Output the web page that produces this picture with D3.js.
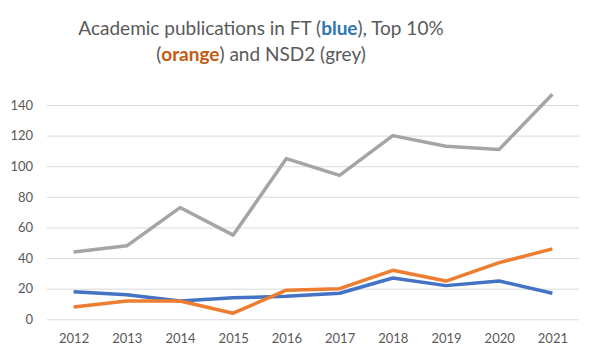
<!DOCTYPE html>
<html><head><meta charset="utf-8">
<script src="https://cdn.jsdelivr.net/npm/d3@7"></script>
<style>body{margin:0;background:#fff}svg{display:block}</style>
</head><body>
<svg id="c" width="597" height="355"></svg>
<script>
const years = ["2012","2013","2014","2015","2016","2017","2018","2019","2020","2021"];
const ft = [18,16,12,14,15,17,27,22,25,17];
const top10 = [8,12,12,4,19,20,32,25,37,46];
const nsd2 = [44,48,73,55,105,94,120,113,111,147];
const yTicks = [0,20,40,60,80,100,120,140];

const svg = d3.select("#c");
const font = "Lato, 'Open Sans', sans-serif";
const txt = "#595959";
const x = d3.scalePoint().domain(years).range([47,579]).padding(0.5);
const y = d3.scaleLinear().domain([0,140]).range([319.3,105]);

const yAxis = d3.axisLeft(y).tickValues(yTicks).tickSize(-(579-47)).tickPadding(14);
const gy = svg.append("g").attr("transform","translate(47,0)").call(yAxis);
gy.select(".domain").remove();
gy.selectAll(".tick line").attr("stroke","#D9D9D9").attr("stroke-width",1);
gy.selectAll(".tick text").attr("fill",txt).attr("font-family",font).attr("font-size",13);

const xAxis = d3.axisBottom(x).tickSize(0).tickPadding(14);
const gx = svg.append("g").attr("transform","translate(0,319.3)").call(xAxis);
gx.select(".domain").remove();
gx.selectAll(".tick text").attr("fill",txt).attr("font-family",font).attr("font-size",13);

const line = d3.line().x((d,i)=>x(years[i])).y(d=>y(d));
[[nsd2,"#A5A5A5"],[ft,"#4472C4"],[top10,"#ED7D31"]].forEach(([s,c])=>{
  svg.append("path").datum(s).attr("d",line).attr("fill","none")
    .attr("stroke",c).attr("stroke-width",3.5).attr("stroke-linejoin","round").attr("stroke-linecap","butt");
});

const t = svg.append("text").attr("text-anchor","middle").attr("font-family",font)
  .attr("font-size",19).attr("fill",txt);
const l1 = t.append("tspan").attr("x",261).attr("y",35);
l1.append("tspan").text("Academic publications in FT (");
l1.append("tspan").text("blue").attr("fill","#2E75B6").attr("font-weight","bold");
l1.append("tspan").text("), Top 10%");
const l2 = t.append("tspan").attr("x",261).attr("y",61);
l2.append("tspan").text("(");
l2.append("tspan").text("orange").attr("fill","#C55A11").attr("font-weight","bold");
l2.append("tspan").text(") and NSD2 (grey)");
</script>
</body></html>
